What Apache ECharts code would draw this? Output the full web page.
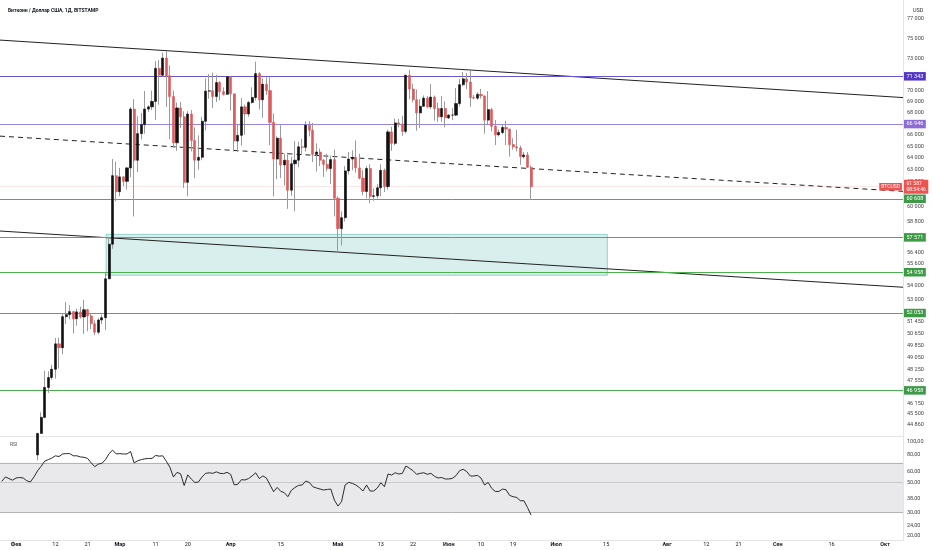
<!DOCTYPE html>
<html><head><meta charset="utf-8">
<script src="https://cdn.jsdelivr.net/npm/echarts@6/dist/echarts.min.js"></script>
<style>html,body{margin:0;padding:0;background:#fff}#c{width:932px;height:550px}</style>
</head><body><div id="c"></div>
<script>
// ---- data (daily candles from startDate) ----
const startDate = '2024-01-28';
const opens = [
42120,42030,43300,42950,42570,43080,43190,43000,42580,42700,
43090,44340,45300,47140,47770,48300,49960,49700,51800,51940,
52150,51660,52130,51780,52280,51850,51320,50740,51570,51730,
54480,57050,62500,61180,62400,62030,63150,68300,63800,66100,
66900,68300,68500,69000,72100,71450,73100,71400,69450,65300,
68400,67600,61950,67850,65500,63800,64050,67200,69950,69980,
69450,70750,69900,69650,71300,69700,65450,65950,68500,67850,
68900,69360,71600,69150,70600,70000,67100,63900,65700,63400,
63800,61300,63500,63800,64950,64900,66850,66400,64300,64500,
63800,63450,63100,63850,60650,58250,59100,62900,63900,64050,
63150,62300,61200,63100,60800,60850,61500,62950,61600,66250,
65250,67050,66950,66300,71450,70150,69150,67950,68550,69300,
68500,69400,68350,67600,68350,67500,67750,67750,68800,70550,
71100,70800,69350,69300,69650,69500,67300,68250,66750,66000,
66200,66650,66500,65150,64950,64850,64100,64250,63200];
const closes = [
42030,43300,42950,42570,43080,43190,43000,42580,42700,43090,
44340,45300,47140,47770,48300,49960,49700,51800,51940,52150,
51660,52130,51780,52280,51850,51320,50740,51570,51730,54480,
57050,62500,61180,62400,62030,63150,68300,63800,66100,66900,
68300,68500,69000,72100,71450,73100,71400,69450,65300,68400,
67600,61950,67850,65500,63800,64050,67200,69950,69980,69450,
70750,69900,69650,71300,69700,65450,65950,68500,67850,68900,
69360,71600,69150,70600,70000,67100,63900,65700,63400,63800,
61300,63500,63800,64950,64900,66850,66400,64300,64500,63800,
63450,63100,63850,60650,58250,59100,62900,63900,64050,63150,
62300,61200,63100,60800,60850,61500,62950,61600,66250,65250,
67050,66950,66300,71450,70150,69150,67950,68550,69300,68500,
69400,68350,67600,68350,67500,67750,67750,68800,70550,71100,
70800,69350,69300,69650,69500,67300,68250,66750,66000,66200,
66650,66500,65150,64950,64850,64100,64250,63200,61587];
const highs = [
42840,43300,43860,43740,43270,43480,43380,43120,43550,43400,
44380,45600,48200,48170,48580,50350,50370,52050,52820,52600,
52180,52350,52500,52980,52350,52050,51550,51700,51950,54900,
57580,63900,63680,63150,62450,63220,68500,69200,67650,67950,
69950,68650,70000,72800,72900,73650,73780,72400,70000,68900,
68950,68100,68100,68200,66650,65950,67600,71150,71550,71700,
71500,70900,70300,71350,71350,69700,66900,69300,68700,69050,
70300,72750,71750,71150,71250,71250,67900,65850,66850,64350,
64450,64100,65450,65400,65650,67200,67200,67050,65250,64800,
63900,64350,64200,64700,60800,59600,63300,64500,64650,65500,
64350,62950,63300,63450,61450,61800,63450,63100,66450,66700,
67450,67400,67700,71500,71950,70650,70100,69200,69550,69500,
70600,69550,68900,69500,69000,67850,68400,70250,71050,71750,
71650,71950,69600,69850,70150,69550,69950,68400,67300,66450,
66950,67250,66550,65700,66450,65050,64500,64500,63350];
const lows = [
41630,41800,42700,42300,41880,42590,42880,42250,42260,42580,
42780,44340,45250,46800,47630,47700,48350,49280,51300,51620,
50650,51180,51670,50630,50800,50950,50540,50590,51300,50900,
54450,56700,60400,60800,61650,61350,62350,59200,62800,65600,
66100,68050,68200,67300,68700,71350,68500,65600,64900,64600,
66600,61500,60800,64550,62300,63000,63800,66400,69250,68400,
68950,69100,69550,69600,68150,64550,64500,65050,66000,67600,
68800,69100,68250,67500,69600,65100,60800,62200,62300,61700,
59800,60850,59600,63200,64300,64550,65850,63650,62850,63300,
62400,62850,61800,59200,56550,56950,58800,62600,62950,62750,
62200,60900,60650,60250,60450,60650,60800,61150,61350,64600,
65100,66650,65900,66100,69200,68900,66350,66600,68550,68400,
68300,67250,67150,67150,66650,67400,67300,67650,68550,70400,
70150,68500,69200,69150,69250,66100,66950,66300,65100,65850,
66050,65100,64100,64700,64550,63400,63950,63150,60500];
const rsi = [
51,55,53.5,52,54,54.5,54,51.5,50.5,55,
61,66,72,74,76,79,78,81.5,82,82,
79,79,77.5,77,75.5,70,65.6,68.5,69.5,74,
82,87,81.5,82,81.5,81.5,85,70,72.5,74,
75,75.5,75.5,79.5,78.5,79,72,65,55,59.5,
58,47.5,57,53,50,50.5,55,58.5,59,58.5,
60,58.5,58.2,59.5,57.5,48,48.5,52.5,52.2,53.5,
56,59,53.5,56,54,48,42.7,46,43,42,
39.2,43.8,46,47.6,47.9,51.3,50,46.5,45.5,44.7,
44,44.4,44.7,37,33.4,36,47.9,50.1,49.3,47.9,
45.8,43.2,47.9,43.2,43.2,45.5,49.8,46.5,57.8,56.8,
59.1,57.8,58.5,66.3,63.8,61.2,57.5,58.5,59.1,57.5,
58.5,55.6,54,54.5,53.1,53.1,53.7,56.2,61.2,62.7,
60.4,55.9,55.9,56.5,54,47.9,50.1,45.2,42.9,42.9,
44.7,44.2,40.1,39.2,38.7,36.6,36.6,32.6,28.6];

const priceTicks = [77000,75000,73000,70000,69000,68000,66000,65000,64000,63000,62000,60000,
  58800,56400,55600,54000,53000,51450,50650,49850,49050,48250,47550,46150,45500,44860];
const rsiTicks = [100,80,60,50,38,30,24,20];
const rsiLevels = [70,50,30];
const timeLabels = [['2024-02-01','Фев'],['2024-02-12','12'],['2024-02-21','21'],['2024-03-01','Мар'],
  ['2024-03-11','11'],['2024-03-20','20'],['2024-04-01','Апр'],['2024-04-15','15'],['2024-05-01','Май'],
  ['2024-05-13','13'],['2024-05-22','22'],['2024-06-01','Июн'],['2024-06-10','10'],['2024-06-19','19'],
  ['2024-07-01','Июл'],['2024-07-15','15'],['2024-08-01','Авг'],['2024-08-12','12'],['2024-08-21','21'],
  ['2024-09-01','Сен'],['2024-09-16','16'],['2024-10-01','Окт']];
const purpleLevels = [71343, 66946];
const greenLevels = [60608, 57571, 54958, 52053, 46958];
const lastPrice = 61587;
const countdown = '08:54:46';
const symbolName = 'BTCUSD';
const upperTrend = [['2024-01-27T12:00:00Z', 74870], ['2024-10-06T00:00:00Z', 69350]];
const lowerTrend = [['2024-01-27T12:00:00Z', 58060], ['2024-10-06T00:00:00Z', 53870]];
const midTrend   = [['2024-01-27T12:00:00Z', 65880], ['2024-10-06T00:00:00Z', 61210]];
const zone = [['2024-02-26T04:00:00Z', 57800], ['2024-07-15T08:00:00Z', 54740]];
const viewRange = ['2024-01-27T12:00:00Z', '2024-10-06T00:00:00Z'];
const priceRange = [44190, 78975];
const rsiRange = [18.68, 109];

// ---- build ----
const FONT = 'Roboto, "Noto Sans", sans-serif';
const DAY = 86400000;
const t0 = Date.parse(startDate + 'T00:00:00Z');
const times = closes.map((_, i) => t0 + i * DAY);
const xMin = Date.parse(viewRange[0]), xMax = Date.parse(viewRange[1]);
const tl = {}; timeLabels.forEach(([d, s]) => { tl[Date.parse(d + 'T00:00:00Z')] = s; });
const fmtPrice = v => String(Math.round(v)).replace(/\B(?=(\d{3})+(?!\d))/g, ' ');
const tr = arr => arr.map(([d, p]) => [Date.parse(d), p]);

const wickData = times.map((t, i) => [t, opens[i], closes[i], lows[i], highs[i]]);
const bodyData = times.map((t, i) => [t, opens[i], closes[i], Math.min(opens[i], closes[i]), Math.max(opens[i], closes[i])]);
const rsiData = times.map((t, i) => [t, rsi[i]]);

const RED = '#ef5350';
const levelLabel = (v, bg) => ({show: true, position: 'end', distance: 1, formatter: fmtPrice(v),
  backgroundColor: bg, color: '#fff', fontSize: 5.5, fontFamily: FONT, padding: [1.5, 2.5, 1, 2.5]});
const markLines = [];
purpleLevels.forEach((v, i) => markLines.push({yAxis: v,
  lineStyle: {color: i === 0 ? '#6656d6' : '#9885e0', width: 1, type: 'solid'},
  label: levelLabel(v, i === 0 ? '#5336c9' : '#8c6bd6')}));
greenLevels.forEach(v => markLines.push({yAxis: v,
  lineStyle: {color: '#4caf50', width: 1, type: 'solid'}, label: levelLabel(v, '#3d9a45')}));
markLines.push({yAxis: lastPrice, lineStyle: {color: 'rgba(230,120,120,0.18)', width: 1, type: 'solid'},
  label: {show: true, position: 'end', distance: 1, formatter: fmtPrice(lastPrice) + '\n' + countdown,
    backgroundColor: RED, color: '#fff', fontSize: 5, lineHeight: 6, fontFamily: FONT, padding: [1, 2.5, 1, 2.5]}});

const trendStyle = (dash) => ({type: 'line', xAxisIndex: 0, yAxisIndex: 0, symbol: 'none', silent: true,
  lineStyle: {color: '#222', width: 1, type: dash ? [5, 4] : 'solid'}, z: 4});

const option = {
  animation: false,
  backgroundColor: '#fff',
  textStyle: {fontFamily: FONT},
  title: [
    {text: 'Биткоин / Доллар США, 1Д, BITSTAMP', left: 3, top: 3,
     textStyle: {fontSize: 5, fontWeight: 'bold', color: '#131722', fontFamily: FONT}},
    {text: 'USD', left: 908, top: 3, textStyle: {fontSize: 5.5, fontWeight: 'normal', color: '#333', fontFamily: FONT}},
    {text: 'RSI', left: 5, top: 437, textStyle: {fontSize: 5, fontWeight: 'normal', color: '#555', fontFamily: FONT}}
  ],
  grid: [
    {left: 0, right: 29, top: 0, height: 436},
    {left: 0, right: 29, top: 437, height: 103}
  ],
  xAxis: [
    {type: 'value', gridIndex: 0, min: xMin, max: xMax, scale: true,
     axisLine: {show: true, lineStyle: {color: '#e3e4e8'}}, axisTick: {show: false},
     axisLabel: {show: false}, splitLine: {show: false}},
    {type: 'value', gridIndex: 1, min: xMin, max: xMax, scale: true,
     axisLine: {show: true, lineStyle: {color: '#e3e4e8'}}, axisTick: {show: false},
     splitLine: {show: false},
     axisLabel: {show: true, margin: 2, fontSize: 5.5, color: '#131722', fontFamily: FONT,
       customValues: Object.keys(tl).map(Number),
       formatter: v => { const s = tl[v] || ''; return /\d/.test(s) ? s : '{m|' + s + '}'; },
       rich: {m: {fontWeight: 'bold', fontSize: 5.5, color: '#131722', fontFamily: FONT}}}}
  ],
  yAxis: [
    {type: 'log', gridIndex: 0, position: 'right', min: priceRange[0], max: priceRange[1],
     axisLine: {show: true, lineStyle: {color: '#e3e4e8'}}, axisTick: {show: false}, splitLine: {show: false},
     axisLabel: {show: true, margin: 4, fontSize: 5.5, color: '#444', fontFamily: FONT,
       customValues: priceTicks, formatter: v => fmtPrice(v)}},
    {type: 'log', gridIndex: 1, position: 'right', min: rsiRange[0], max: rsiRange[1],
     axisLine: {show: true, lineStyle: {color: '#e3e4e8'}}, axisTick: {show: false}, splitLine: {show: false},
     axisLabel: {show: true, margin: 4, fontSize: 5.5, color: '#444', fontFamily: FONT,
       customValues: rsiTicks, formatter: v => Number(v).toFixed(2).replace('.', ',')}}
  ],
  series: [
    {type: 'line', xAxisIndex: 0, yAxisIndex: 0, data: [], clip: false, silent: true, z: 1,
     markArea: {silent: true, itemStyle: {color: 'rgba(38,166,154,0.18)', borderColor: 'rgba(38,166,154,0.45)', borderWidth: 1},
       data: [[{coord: [Date.parse(zone[0][0]), zone[0][1]]}, {coord: [Date.parse(zone[1][0]), zone[1][1]]}]]},
     markLine: {silent: true, symbol: 'none', data: markLines},
     markPoint: {silent: true, symbol: 'rect', symbolSize: 0.1, itemStyle: {color: 'transparent'},
       data: [{coord: [xMax, lastPrice],
         label: {show: true, position: 'left', distance: 1, formatter: symbolName,
           backgroundColor: RED, color: '#fff', fontSize: 5, fontFamily: FONT, padding: [1.5, 2, 1, 2]}}]}},
    Object.assign(trendStyle(false), {data: tr(upperTrend)}),
    Object.assign(trendStyle(false), {data: tr(lowerTrend)}),
    Object.assign(trendStyle(true), {data: tr(midTrend)}),
    {type: 'candlestick', xAxisIndex: 0, yAxisIndex: 0, data: wickData, encode: {x: 0, y: [1, 2, 3, 4]},
     barWidth: 1, clip: true, silent: true, z: 5,
     itemStyle: {color: 'transparent', color0: 'transparent', borderColor: '#9a9a9a', borderColor0: '#9a9a9a', borderWidth: 1}},
    {type: 'candlestick', xAxisIndex: 0, yAxisIndex: 0, data: bodyData, encode: {x: 0, y: [1, 2, 3, 4]},
     barWidth: 2.6, clip: true, silent: true, z: 6,
     itemStyle: {color: '#111111', color0: '#e05a5c', borderColor: '#111111', borderColor0: '#e05a5c', borderWidth: 0.6}},
    {type: 'line', xAxisIndex: 1, yAxisIndex: 1, data: rsiData, symbol: 'none', silent: true, z: 5,
     lineStyle: {color: '#2b2b2b', width: 1},
     markArea: {silent: true, itemStyle: {color: '#e9e9ec'}, data: [[{yAxis: rsiLevels[2]}, {yAxis: rsiLevels[0]}]]},
     markLine: {silent: true, symbol: 'none', label: {show: false},
       data: rsiLevels.map(v => ({yAxis: v, lineStyle: {color: v === 50 ? '#c9c9cc' : '#b4b4b8', width: 1, type: 'solid'}}))}}
  ]
};
const chart = echarts.init(document.getElementById('c'), null, {renderer: 'canvas'});
chart.setOption(option);
</script>
</body></html>
